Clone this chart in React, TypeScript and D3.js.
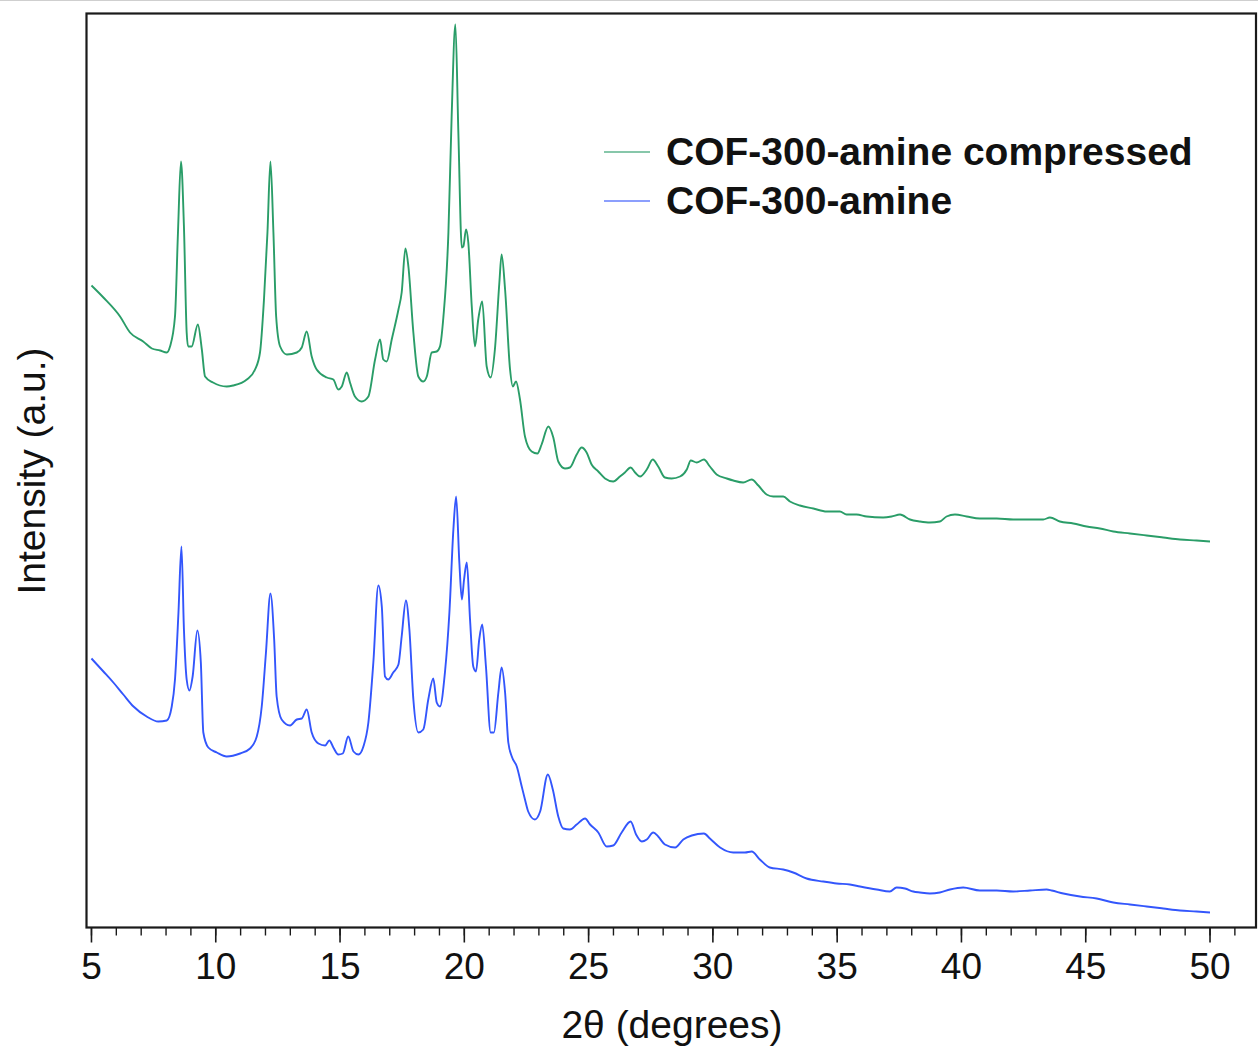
import React from "react";
import * as d3 from "d3";

// 2θ (degrees), intensity (a.u.)
const compressedData: [number, number][] = [
  [5.0, 642], [5.48, 630], [6.15, 611], [6.55, 595], [7.08, 586], [7.43, 579], [7.76, 577], [8.03, 575],
  [8.16, 581], [8.36, 611], [8.48, 695], [8.6, 766], [8.72, 701], [8.83, 595], [8.89, 581], [9.03, 581],
  [9.28, 603], [9.44, 578], [9.57, 551], [9.89, 545], [10.44, 541], [10.7, 542], [11.25, 548], [11.58, 558],
  [11.78, 575], [11.94, 628], [12.08, 695], [12.2, 766], [12.32, 695], [12.43, 611], [12.59, 581], [12.86, 573],
  [13.26, 575], [13.46, 580], [13.66, 596], [13.86, 571], [14.06, 558], [14.47, 550], [14.73, 548], [14.93, 538],
  [15.07, 541], [15.27, 555], [15.4, 545], [15.6, 531], [15.87, 526], [16.14, 531], [16.41, 568], [16.61, 588],
  [16.74, 568], [16.88, 566], [17.08, 588], [17.35, 618], [17.48, 635], [17.63, 679], [17.75, 661], [17.95, 595],
  [18.15, 551], [18.35, 546], [18.49, 551], [18.69, 575], [18.89, 576], [19.02, 581], [19.16, 611], [19.36, 695],
  [19.49, 811], [19.64, 903], [19.76, 795], [19.9, 680], [19.96, 681], [20.07, 698], [20.16, 685], [20.3, 621],
  [20.43, 581], [20.56, 608], [20.72, 626], [20.9, 561], [21.06, 550], [21.23, 578], [21.41, 645], [21.5, 673],
  [21.64, 638], [21.84, 558], [21.95, 541], [22.08, 546], [22.24, 528], [22.44, 491], [22.71, 476], [22.94, 474],
  [23.11, 483], [23.38, 501], [23.58, 490], [23.78, 466], [24.05, 459], [24.25, 460], [24.52, 473], [24.72, 480],
  [24.92, 475], [25.12, 463], [25.39, 456], [25.66, 449], [25.99, 446], [26.26, 451], [26.46, 455], [26.69, 460],
  [26.87, 455], [27.07, 451], [27.34, 458], [27.58, 468], [27.8, 461], [28.07, 450], [28.34, 449], [28.68, 451],
  [28.95, 458], [29.11, 467], [29.35, 465], [29.64, 468], [29.88, 461], [30.15, 453], [30.56, 449], [30.82, 447],
  [31.22, 445], [31.56, 448], [31.83, 442], [32.16, 433], [32.43, 431], [32.83, 431], [33.1, 426], [33.5, 422],
  [34.04, 419], [34.58, 416], [35.11, 416], [35.38, 413], [35.78, 413], [36.19, 411], [36.85, 410], [37.19, 411],
  [37.53, 413], [37.93, 408], [38.33, 406], [38.73, 405], [39.13, 406], [39.4, 411], [39.74, 413], [40.21, 411],
  [40.74, 409], [41.42, 409], [42.08, 408], [42.76, 408], [43.29, 408], [43.56, 410], [43.96, 406], [44.5, 404],
  [45.04, 401], [45.57, 399], [46.11, 396], [46.78, 394], [47.45, 392], [48.12, 390], [48.79, 388], [49.46, 387],
  [50.0, 386],
];

const pristineData: [number, number][] = [
  [5.0, 269], [5.48, 256], [5.88, 245], [6.28, 233], [6.69, 221], [7.22, 211], [7.69, 206], [8.03, 207],
  [8.23, 221], [8.36, 248], [8.5, 315], [8.62, 381], [8.72, 298], [8.83, 248], [8.94, 237], [9.07, 251],
  [9.26, 297], [9.4, 265], [9.5, 195], [9.7, 180], [10.04, 175], [10.44, 171], [10.98, 174], [11.38, 179],
  [11.65, 191], [11.85, 221], [12.02, 275], [12.2, 334], [12.35, 288], [12.45, 231], [12.65, 208], [12.99, 202],
  [13.26, 208], [13.46, 209], [13.66, 218], [13.86, 195], [14.13, 184], [14.4, 182], [14.57, 187], [14.73, 180],
  [14.93, 173], [15.11, 174], [15.33, 191], [15.54, 176], [15.74, 173], [15.94, 181], [16.14, 205], [16.34, 265],
  [16.54, 342], [16.68, 321], [16.81, 251], [16.94, 248], [17.14, 255], [17.35, 263], [17.48, 291], [17.65, 327],
  [17.79, 298], [17.95, 228], [18.15, 195], [18.35, 198], [18.55, 228], [18.75, 249], [18.89, 225], [19.02, 221],
  [19.22, 255], [19.4, 315], [19.56, 398], [19.67, 431], [19.8, 365], [19.9, 328], [19.99, 348], [20.1, 365],
  [20.23, 308], [20.36, 261], [20.47, 256], [20.6, 288], [20.72, 303], [20.87, 261], [21.06, 195], [21.19, 195],
  [21.37, 235], [21.5, 260], [21.64, 235], [21.77, 185], [21.91, 171], [22.11, 161], [22.31, 141], [22.44, 128],
  [22.57, 116], [22.84, 108], [23.05, 116], [23.36, 153], [23.56, 138], [23.78, 111], [23.98, 99], [24.25, 98],
  [24.52, 103], [24.86, 109], [25.06, 103], [25.39, 95], [25.73, 81], [25.99, 82], [26.33, 95], [26.69, 106],
  [26.91, 93], [27.14, 86], [27.34, 88], [27.6, 95], [27.8, 91], [28.07, 83], [28.48, 80], [28.81, 88],
  [29.15, 92], [29.64, 94], [29.88, 89], [30.29, 80], [30.82, 75], [31.29, 75], [31.56, 76], [31.89, 68],
  [32.29, 60], [32.83, 58], [33.23, 55], [33.77, 49], [34.44, 46], [34.98, 44], [35.51, 43], [35.92, 41],
  [36.59, 38], [37.12, 36], [37.39, 40], [37.73, 39], [38.06, 36], [38.33, 35], [38.73, 34], [39.13, 35],
  [39.54, 38], [40.07, 40], [40.74, 37], [41.42, 37], [42.08, 36], [42.76, 37], [43.43, 38], [43.63, 37],
  [44.1, 34], [44.77, 31], [45.44, 29], [46.11, 25], [46.78, 23], [47.45, 21], [48.12, 19], [48.79, 17],
  [49.46, 16], [50.0, 15],
];

const majorTicks = [5, 10, 15, 20, 25, 30, 35, 40, 45, 50];
const minorTicks = d3.range(5, 52, 1);
const seriesNames = ["COF-300-amine compressed", "COF-300-amine"];
const seriesColors = ["#2a9d68", "#3356fc"];

const W = 1258;
const H = 1053;
const left = 86.5;
const right = 1256;
const top = 13.5;
const bottom = 927.5;
const FONT = "'Liberation Sans', Arial, Helvetica, sans-serif";

export default function App() {
  const x = d3.scaleLinear().domain([4.8, 51.85]).range([left, right]);
  const y = d3.scaleLinear().domain([0, 914]).range([bottom, top]);
  const line = d3
    .line<[number, number]>()
    .x((d) => x(d[0]))
    .y((d) => y(d[1]))
    .curve(d3.curveMonotoneX);

  const series = [compressedData, pristineData];

  return (
    <svg
      width={W}
      height={H}
      style={{ position: "absolute", left: 0, top: 0, background: "#fff" }}
      fontFamily={FONT}
    >
      <rect x={0} y={0} width={W} height={H} fill="#fff" />
      <line x1={0} x2={W} y1={0.5} y2={0.5} stroke="#cfcfcf" strokeWidth={1} />
      {series.map((s, i) => (
        <path key={i} d={line(s) || ""} fill="none" stroke={seriesColors[i]} strokeWidth={1.9} strokeLinejoin="round" />
      ))}
      <rect x={left} y={top} width={right - left} height={bottom - top} fill="none" stroke="#1a1a1a" strokeWidth={2.2} />
      {minorTicks.map((t) => (
        <line key={"m" + t} x1={x(t)} x2={x(t)} y1={bottom} y2={bottom + 8} stroke="#1a1a1a" strokeWidth={1.4} />
      ))}
      {majorTicks.map((t) => (
        <g key={"M" + t}>
          <line x1={x(t)} x2={x(t)} y1={bottom} y2={bottom + 15} stroke="#1a1a1a" strokeWidth={1.6} />
          <text x={x(t)} y={979} textAnchor="middle" fontSize={37} fill="#111">
            {t}
          </text>
        </g>
      ))}
      <text x={672} y={1038} textAnchor="middle" fontSize={39} fill="#111">
        2θ (degrees)
      </text>
      <text transform={`translate(45,471) rotate(-90)`} textAnchor="middle" fontSize={39} fill="#111">
        Intensity (a.u.)
      </text>
      {seriesNames.map((n, i) => (
        <g key={n}>
          <line x1={604} x2={650} y1={152 + i * 49} y2={152 + i * 49} stroke={seriesColors[i]} strokeWidth={1.5} opacity={0.75} />
          <text x={666} y={165 + i * 49} fontSize={39} fontWeight="bold" fill="#111">
            {n}
          </text>
        </g>
      ))}
    </svg>
  );
}
